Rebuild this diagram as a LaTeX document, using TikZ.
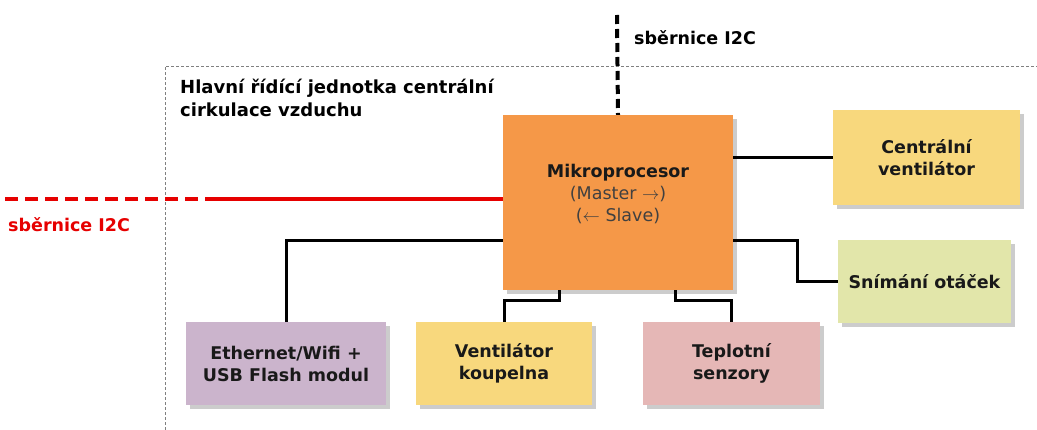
\documentclass[tikz,border=0pt]{standalone}
\usepackage{fontspec}
\setmainfont{DejaVu Sans}
\usetikzlibrary{positioning}
\usetikzlibrary{shadows}

\definecolor{mcuorange}{RGB}{245,152,72}
\definecolor{fanyellow}{RGB}{248,216,125}
\definecolor{rpmgreen}{RGB}{226,230,170}
\definecolor{ethlilac}{RGB}{203,180,204}
\definecolor{temppink}{RGB}{229,183,182}
\definecolor{busred}{RGB}{230,0,0}

\tikzset{
    unit/.style={inner sep=0pt, align=center, font=\fontsize{17.5}{22}\selectfont\bfseries,
        text=black!90, drop shadow={opacity=0.4, shadow xshift=4pt, shadow yshift=-4pt}},
    wire/.style={line width=3pt, black},
}

\begin{document}
\begin{tikzpicture}[x=1pt, y=-1pt]
        \useasboundingbox (0,0) rectangle (1037,430);

        % frame of the control unit
        \draw[gray, densely dashed, line width=0.8pt] (165,430) |- (1037,66);
        \node[align=left, anchor=north west, inner sep=0pt, font=\fontsize{18}{23}\selectfont\bfseries] at (180,79) (title) {Hlavní řídící jednotka centrální\\cirkulace vzduchu};

        % Central node: microprocessor
        \node[unit, fill=mcuorange, minimum width=230pt, minimum height=175pt] at (618,202.5) (mcu) {Mikroprocesor\\{\mdseries\color{black!75}(Master $\rightarrow$)}\\{\mdseries\color{black!75}($\leftarrow$ Slave)}\\[-2pt]~};

        % Peripherals
        \node[unit, fill=fanyellow, minimum width=187pt, minimum height=95pt] at (926.5,157.5) (fan) {Centrální\\ventilátor};
        \node[unit, fill=rpmgreen, minimum width=173pt, minimum height=83pt] at (924.5,281.5) (rpm) {Snímání otáček};
        \node[unit, fill=ethlilac, minimum width=200pt, minimum height=83pt] at (286,363.5) (eth) {Ethernet/Wifi +\\USB Flash modul};
        \node[unit, fill=fanyellow, minimum width=176pt, minimum height=83pt] at (504,363.5) (bath) {Ventilátor\\koupelna};
        \node[unit, fill=temppink, minimum width=177pt, minimum height=83pt] at (731.5,363.5) (temp) {Teplotní\\senzory};

        % I2C buses
        \coordinate (busT) at (617,15);
        \coordinate (busL) at (5,199);
        \coordinate (busM) at (205,199);
        \draw[line width=4pt, black, dash pattern=on 9pt off 5pt] (busT) -- (mcu.north);
        \node[anchor=west, inner sep=0pt, font=\fontsize{17.5}{22}\selectfont\bfseries] at (634,38) (busTlabel) {sběrnice I2C};
        \draw[line width=3.5pt, busred, dash pattern=on 13pt off 7pt] (busL) -- (busM);
        \draw[line width=3.5pt, busred] (busM) -- (mcu.west |- busM);
        \node[anchor=west, inner sep=0pt, text=busred, font=\fontsize{17.5}{22}\selectfont\bfseries] at (8,225) (busLlabel) {sběrnice I2C};

        % Wiring to peripherals
        \draw[wire] (mcu.east |- fan.west) -- (fan.west);
        \draw[wire] ([yshift=50pt]mcu.south east) -- ++(64pt,0) |- (rpm.west);
        \draw[wire] ([yshift=50pt]mcu.south west) -| (eth.north);
        \draw[wire] ([xshift=57pt]mcu.south west) -- ++(0,-10pt) -| (bath.north);
        \draw[wire] ([xshift=-58pt]mcu.south east) -- ++(0,-10pt) -| (temp.north);

    \end{tikzpicture}
\end{document}
